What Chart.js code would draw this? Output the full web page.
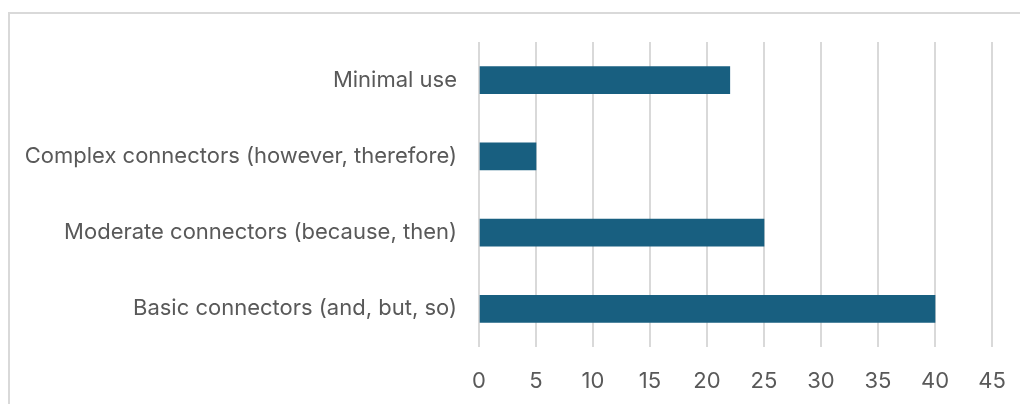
<!DOCTYPE html>
<html>
<head>
<meta charset="utf-8">
<script src="https://cdn.jsdelivr.net/npm/chart.js@4/dist/chart.umd.min.js"></script>
<style>
  html, body { margin: 0; padding: 0; background: #ffffff; overflow: hidden; }
  #wrap { position: relative; width: 1020px; height: 404px; }
  #frame { position: absolute; left: 8px; top: 12px; width: 1100px; height: 500px;
           border: 2px solid #d9d9d9; box-sizing: border-box; }
  canvas { position: absolute; left: 0; top: 0; }
</style>
</head>
<body>
<div id="wrap">
  <div id="frame"></div>
  <canvas id="c" width="1020" height="404"></canvas>
</div>
<script>
// Connector usage categories and counts
const categories = [
  'Minimal use',
  'Complex connectors (however, therefore)',
  'Moderate connectors (because, then)',
  'Basic connectors (and, but, so)'
];
const counts = [22, 5, 25, 40];
const tickValues = [0, 5, 10, 15, 20, 25, 30, 35, 40, 45];

const fontFamily = 'Inter, "Noto Sans", "Liberation Sans", sans-serif';

new Chart(document.getElementById('c'), {
  type: 'bar',
  data: {
    labels: categories,
    datasets: [{
      data: counts,
      backgroundColor: '#185f80',
      borderWidth: 0,
      barThickness: 27
    }]
  },
  options: {
    indexAxis: 'y',
    responsive: false,
    animation: false,
    layout: { padding: { top: 42, right: 28, left: 0, bottom: 0 } },
    plugins: { legend: { display: false }, tooltip: { enabled: false } },
    scales: {
      x: {
        min: 0,
        max: 45,
        afterBuildTicks: (axis) => { axis.ticks = tickValues.map(v => ({ value: v })); },
        afterFit: (axis) => {
          axis.height = 404 - 347;
          axis.paddingLeft = 0;
          axis.paddingRight = 0;
        },
        grid: { color: '#d9d9d9', lineWidth: 2, drawTicks: false },
        border: { display: false },
        ticks: {
          color: '#595959',
          font: { family: fontFamily, size: 22 },
          padding: 21
        }
      },
      y: {
        afterFit: (axis) => { axis.width = 479; },
        grid: { display: false, drawTicks: false },
        border: { display: false },
        ticks: {
          color: '#595959',
          font: { family: fontFamily, size: 22 },
          padding: 22
        }
      }
    }
  }
});
</script>
</body>
</html>
